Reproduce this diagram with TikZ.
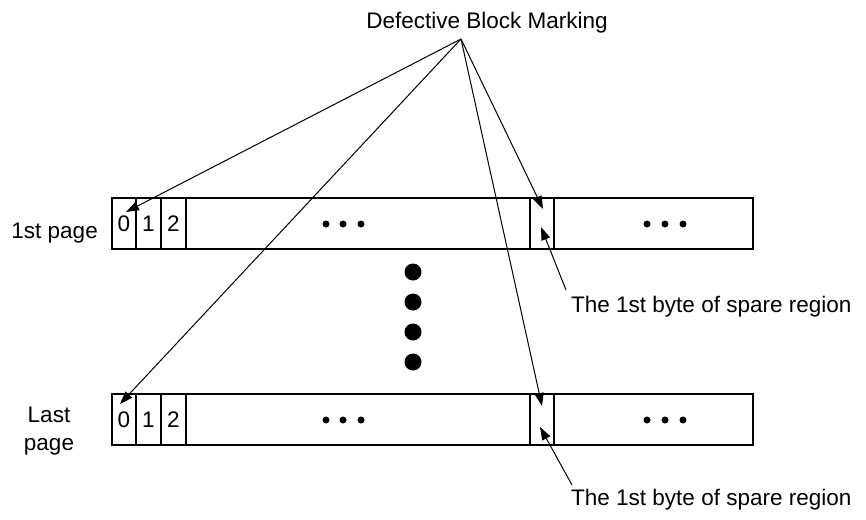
\documentclass[tikz,border=0pt]{standalone}
\usepackage{fontspec}
\setmainfont{Liberation Sans}
\usetikzlibrary{arrows.meta,positioning,calc}
\begin{document}
\begin{tikzpicture}[x=1pt,y=-1pt,
  cell/.style={draw,line width=1.2pt,minimum height=51pt,inner sep=0pt,outer sep=0pt,anchor=north west,font=\fontsize{22.5}{27}\selectfont},
  lbl/.style={inner sep=0pt,font=\fontsize{22.5}{27}\selectfont},
  arr/.style={line width=1pt,-{Triangle[length=13pt,width=9pt]}},
  bigdot/.style={circle,fill=black,inner sep=0pt,minimum size=17pt},
  smalldot/.style={circle,fill=black,inner sep=0pt,minimum size=7pt}]
\useasboundingbox (0,0) rectangle (866,519);
% top row
\node[cell,minimum width=24pt] (t0) at (112,198) {0};
\node[cell,minimum width=25pt] (t1) at (136,198) {1};
\node[cell,minimum width=25pt] (t2) at (161,198) {2};
\node[cell,minimum width=344pt] (tb) at (186,198) {};
\node[cell,minimum width=24pt] (ts) at (530,198) {};
\node[cell,minimum width=199pt] (tr) at (554,198) {};
% bottom row
\node[cell,minimum width=24pt] (b0) at (112,394) {0};
\node[cell,minimum width=25pt] (b1) at (136,394) {1};
\node[cell,minimum width=25pt] (b2) at (161,394) {2};
\node[cell,minimum width=344pt] (bb) at (186,394) {};
\node[cell,minimum width=24pt] (bs) at (530,394) {};
\node[cell,minimum width=199pt] (br) at (554,394) {};
% ellipsis dots
\foreach \r/\y in {t/224,b/420}{
  \node[smalldot] (\r d1) at (326,\y) {};
  \node[smalldot] (\r d2) at (343,\y) {};
  \node[smalldot] (\r d3) at (361,\y) {};
  \node[smalldot] (\r e1) at (647,\y) {};
  \node[smalldot] (\r e2) at (665,\y) {};
  \node[smalldot] (\r e3) at (683,\y) {};
}
% vertical big dots
\node[bigdot] (v1) at (413,272) {};
\node[bigdot] (v2) at (413,302) {};
\node[bigdot] (v3) at (413,332) {};
\node[bigdot] (v4) at (413,362) {};
% labels
\node[lbl,anchor=base] (title) at (487,29) {Defective Block Marking};
\node[lbl,anchor=base east] (first) at (98,238) {1st page};
\node[lbl,anchor=base,align=center] (lastA) at (49,422) {Last};
\node[lbl,anchor=base,align=center] (lastB) at (49,450) {page};
\node[lbl,anchor=base west] (sp1) at (571,312) {The 1st byte of spare region};
\node[lbl,anchor=base west] (sp2) at (571,505) {The 1st byte of spare region};
% arrow coordinates
\coordinate (apex) at (461,39);
\coordinate (tt0) at (126,212);
\coordinate (tb0) at (120,404);
\coordinate (tts) at (543,209);
\coordinate (tbs) at (542,406);
\coordinate (st1) at (541,227);
\coordinate (sb1) at (540,427);
\coordinate (sp1t) at (566,290);
\coordinate (sp2t) at (572,485);
\draw[arr] (apex) -- (tt0);
\draw[arr] (apex) -- (tb0);
\draw[arr] (apex) -- (tts);
\draw[arr] (apex) -- (tbs);
\draw[arr] (sp1t) -- (st1);
\draw[arr] (sp2t) -- (sb1);
\end{tikzpicture}
\end{document}
